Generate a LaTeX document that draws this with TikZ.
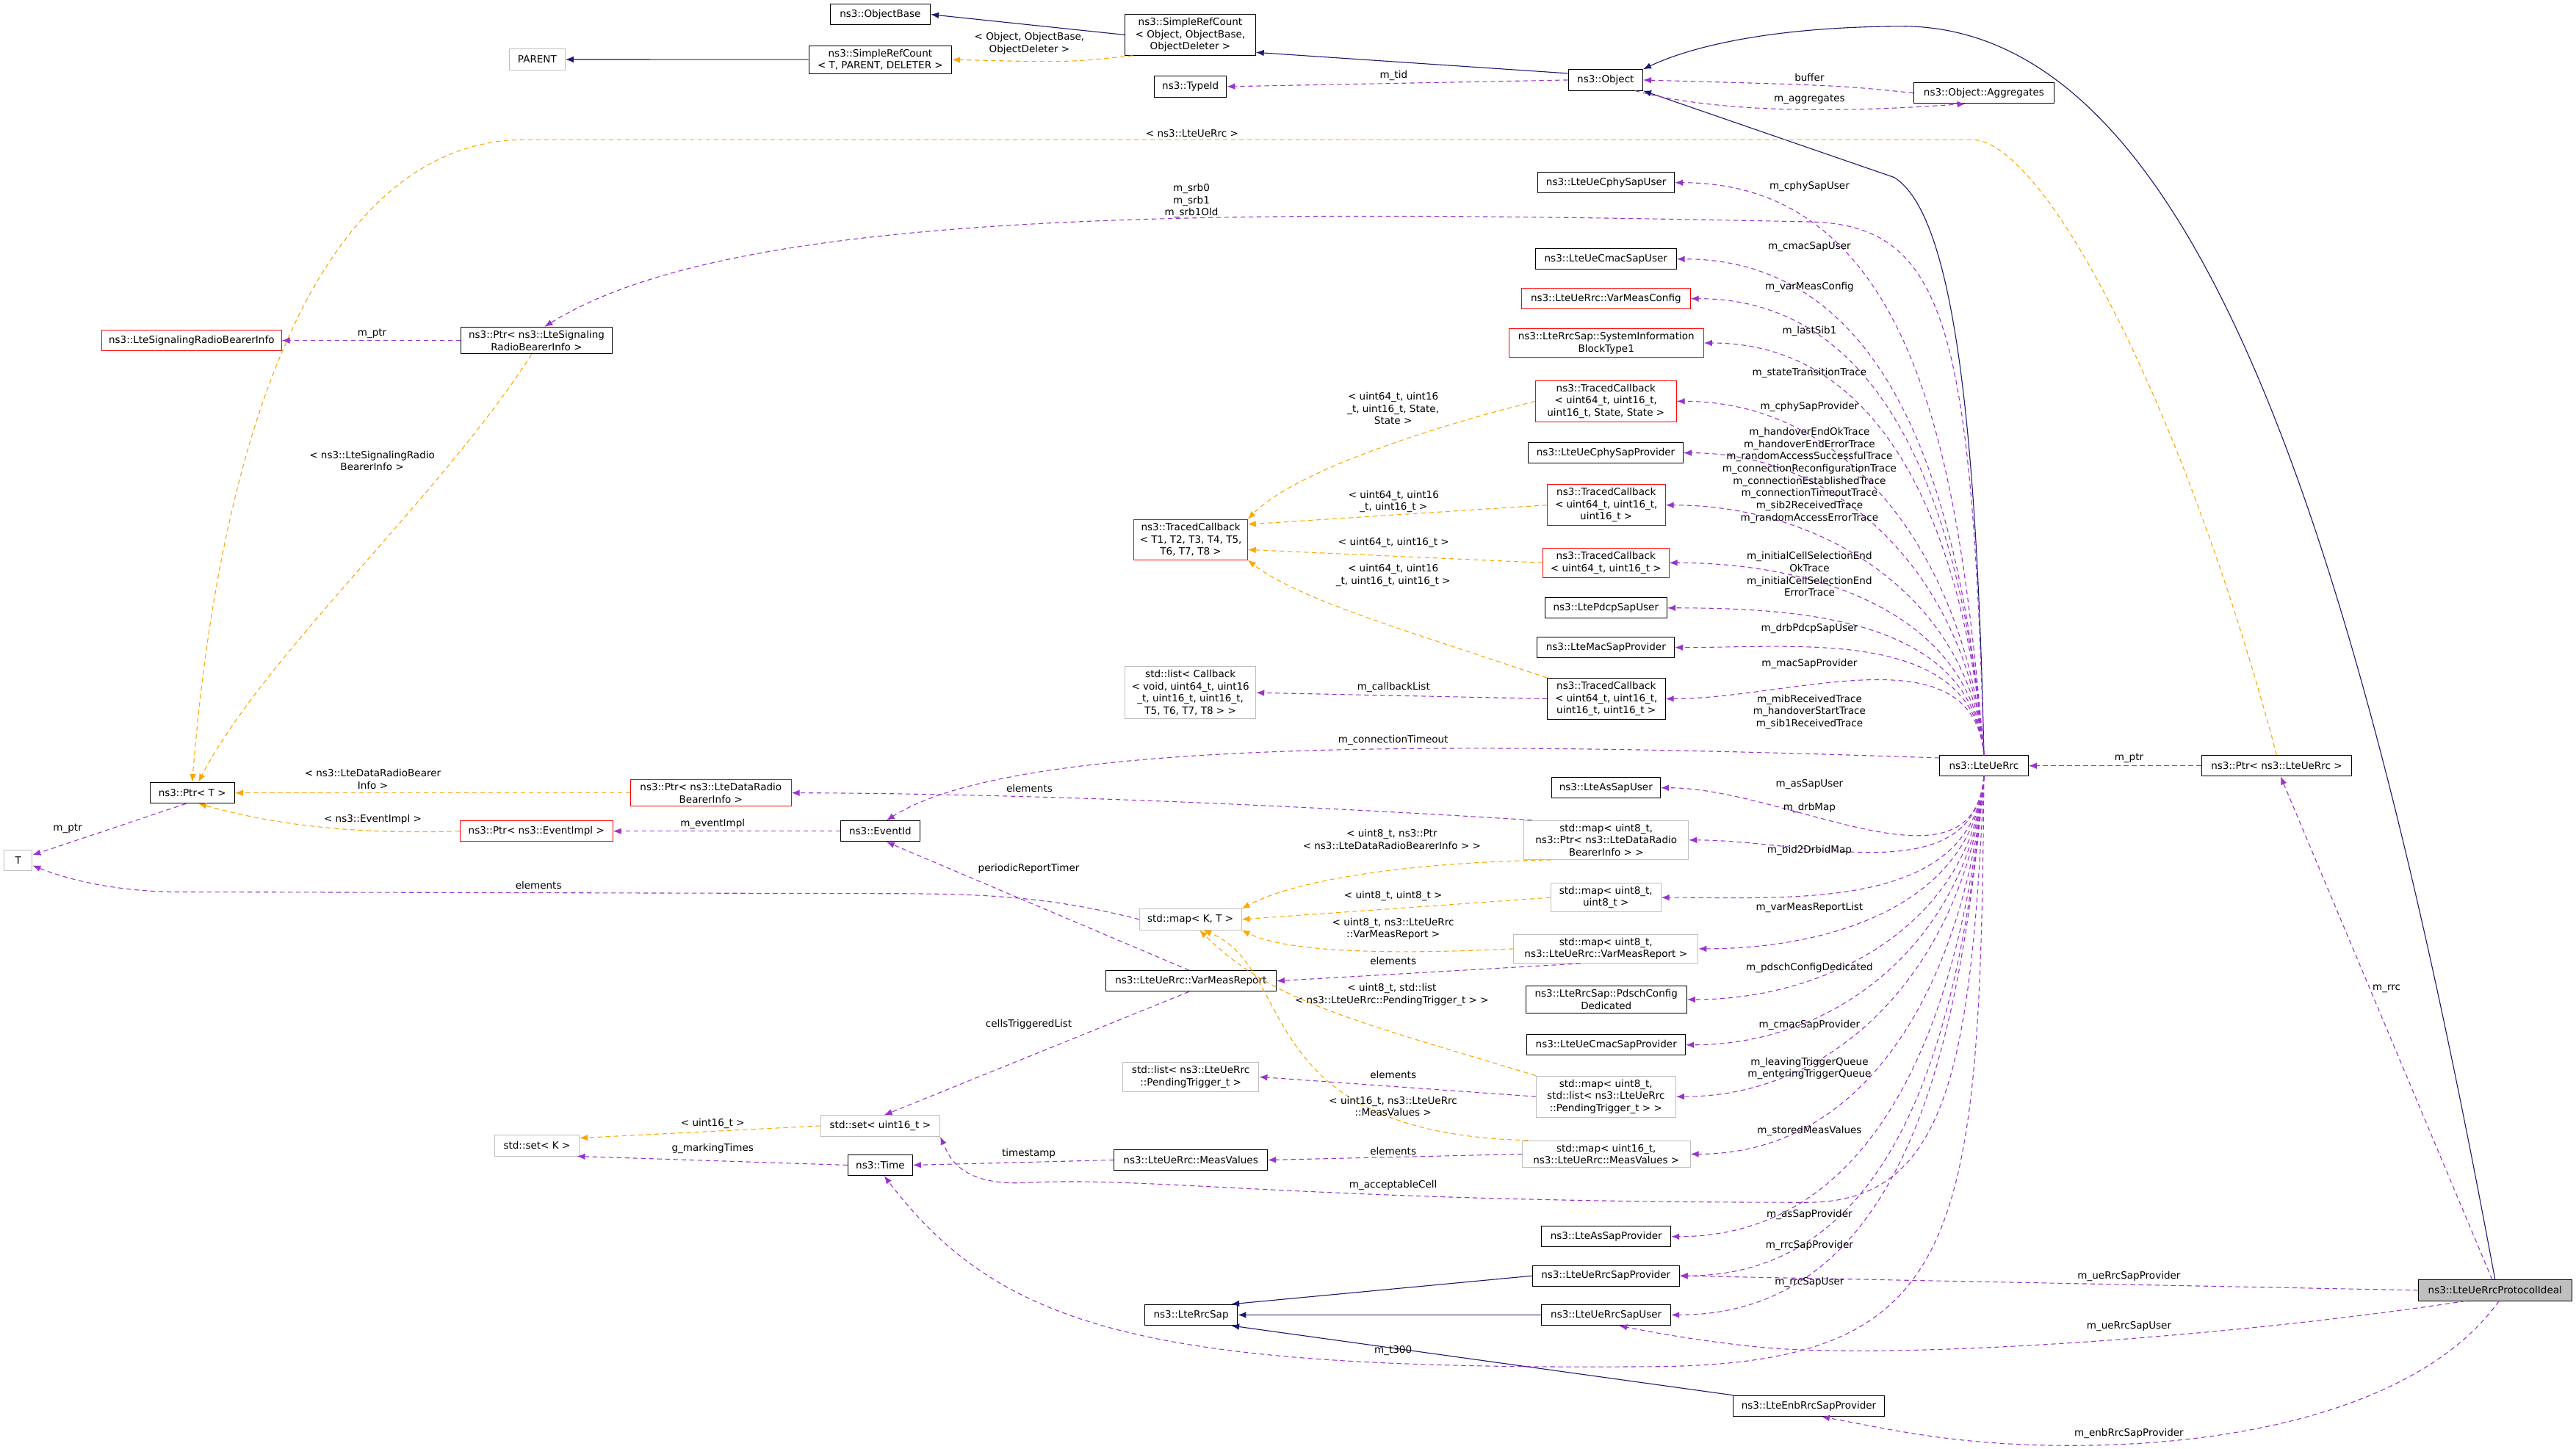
\documentclass[tikz,border=0pt]{standalone}
\usepackage{fontspec}
\setmainfont{DejaVu Sans}
\usetikzlibrary{arrows.meta}
\definecolor{navy}{RGB}{25,25,112}
\definecolor{purp}{RGB}{154,50,205}
\definecolor{orng}{RGB}{255,165,0}
\definecolor{grayb}{RGB}{191,191,191}
\tikzset{
 box/.style={draw=black,rectangle,align=center,inner xsep=2pt,inner ysep=3pt,minimum height=18pt,font=\fontsize{8.6}{10.6}\selectfont,line width=0.6pt},
 redbox/.style={box,draw=red},
 graybox/.style={box,draw=grayb},
 bw/.style={minimum width=#1*1.4226pt},
 lbl/.style={align=center,inner sep=0.5pt,font=\fontsize{8.6}{10.6}\selectfont},
 inh/.style={draw=navy,line width=0.7pt,-{Latex[length=7pt,width=5.5pt]}},
 use/.style={draw=purp,line width=0.7pt,dash pattern=on 4pt off 3pt,-{Latex[length=7pt,width=5.5pt]}},
 tpl/.style={draw=orng,line width=0.7pt,dash pattern=on 4pt off 3pt,-{Latex[length=7pt,width=5.5pt]}},
}
\begin{document}
\begin{tikzpicture}[x=0.05cm,y=-0.05cm]
\useasboundingbox (0,0) rectangle (1568,882);
% nodes
\node[box,bw=61] (objbase) at (535.8,8.8) {ns3::ObjectBase};
\node[graybox,bw=34] (parent) at (327,36.2) {PARENT};
\node[box,bw=87] (srcT) at (535.8,36.3) {ns3::SimpleRefCount\\< T, PARENT, DELETER >};
\node[box,bw=79.4] (srcO) at (724.5,21.2) {ns3::SimpleRefCount\\< Object, ObjectBase,\\ObjectDeleter >};
\node[box,bw=44] (typeid) at (724.6,52.7) {ns3::TypeId};
\node[box,bw=45.3] (obj) at (977.3,48.7) {ns3::Object};
\node[box,bw=85.5] (agg) at (1207.6,56.6) {ns3::Object::Aggregates};
\node[box,bw=83] (cphyU) at (977.7,111.2) {ns3::LteUeCphySapUser};
\node[box,bw=85.7] (cmacU) at (977.5,157.7) {ns3::LteUeCmacSapUser};
\node[redbox,bw=102.7] (vmc) at (977.5,181.8) {ns3::LteUeRrc::VarMeasConfig};
\node[redbox,bw=118.6] (sib1) at (977.7,208.8) {ns3::LteRrcSap::SystemInformation\\BlockType1};
\node[redbox,bw=85.7] (tc5) at (977.5,244.3) {ns3::TracedCallback\\< uint64\_t, uint16\_t,\\uint16\_t, State, State >};
\node[box,bw=94.2] (cphyP) at (977.4,275.7) {ns3::LteUeCphySapProvider};
\node[redbox,bw=72] (tc3) at (977.7,307.5) {ns3::TracedCallback\\< uint64\_t, uint16\_t,\\uint16\_t >};
\node[redbox,bw=76.7] (tc2) at (977.5,342.6) {ns3::TracedCallback\\< uint64\_t, uint16\_t >};
\node[box,bw=74.5] (pdcpU) at (977.5,370.1) {ns3::LtePdcpSapUser};
\node[box,bw=83.5] (macP) at (977.5,394.2) {ns3::LteMacSapProvider};
\node[box,bw=72] (tc4) at (977.7,425.4) {ns3::TracedCallback\\< uint64\_t, uint16\_t,\\uint16\_t, uint16\_t >};
\node[redbox,bw=69] (tc8) at (724.8,328.5) {ns3::TracedCallback\\< T1, T2, T3, T4, T5,\\T6, T7, T8 >};
\node[graybox,bw=79.7] (cblist) at (724.6,421.7) {std::list< Callback\\< void, uint64\_t, uint16\\\_t, uint16\_t, uint16\_t,\\T5, T6, T7, T8 > >};
\node[redbox,bw=109.4] (sigRBI) at (116.6,207.3) {ns3::LteSignalingRadioBearerInfo};
\node[box,bw=92] (ptrS) at (326.6,207.3) {ns3::Ptr< ns3::LteSignaling\\RadioBearerInfo >};
\node[box,bw=51.6] (ptrT) at (117,482.7) {ns3::Ptr< T >};
\node[graybox,bw=17] (T) at (11.1,523.7) {T};
\node[redbox,bw=97.8] (ptrD) at (432.7,482.7) {ns3::Ptr< ns3::LteDataRadio\\BearerInfo >};
\node[redbox,bw=93] (ptrE) at (326.5,506) {ns3::Ptr< ns3::EventImpl >};
\node[box,bw=48.2] (eid) at (535.8,506) {ns3::EventId};
\node[box,bw=54] (rrc) at (1207.6,466.2) {ns3::LteUeRrc};
\node[box,bw=91.6] (ptrR) at (1385.8,466.2) {ns3::Ptr< ns3::LteUeRrc >};
\node[box,bw=66.3] (asU) at (977.5,479.6) {ns3::LteAsSapUser};
\node[graybox,bw=100] (mapD) at (977.7,511.4) {std::map< uint8\_t,\\ns3::Ptr< ns3::LteDataRadio\\BearerInfo > >};
\node[graybox,bw=62] (mapKT) at (724.6,559.7) {std::map< K, T >};
\node[graybox,bw=67] (mapB) at (977.5,546.4) {std::map< uint8\_t,\\uint8\_t >};
\node[graybox,bw=112.3] (mapV) at (977.5,577.6) {std::map< uint8\_t,\\ns3::LteUeRrc::VarMeasReport >};
\node[box,bw=103.8] (vmr) at (724.9,597.2) {ns3::LteUeRrc::VarMeasReport};
\node[box,bw=98] (pdsch) at (977.7,608.5) {ns3::LteRrcSap::PdschConfig\\Dedicated};
\node[box,bw=96.5] (cmacP) at (977.7,636.1) {ns3::LteUeCmacSapProvider};
\node[graybox,bw=83] (listP) at (724.8,655.6) {std::list< ns3::LteUeRrc\\::PendingTrigger\_t >};
\node[graybox,bw=85] (mapL) at (977.5,667.6) {std::map< uint8\_t,\\std::list< ns3::LteUeRrc\\::PendingTrigger\_t > >};
\node[box,bw=93.5] (mv) at (724.8,706.2) {ns3::LteUeRrc::MeasValues};
\node[graybox,bw=102.3] (mapM) at (977.7,702.6) {std::map< uint16\_t,\\ns3::LteUeRrc::MeasValues >};
\node[graybox,bw=51.6] (setK) at (326.8,697.4) {std::set< K >};
\node[graybox,bw=72.7] (setU) at (535.8,685.4) {std::set< uint16\_t >};
\node[box,bw=39.3] (time) at (535.8,709.3) {ns3::Time};
\node[box,bw=78.6] (asP) at (977.7,752.8) {ns3::LteAsSapProvider};
\node[box,bw=89.3] (ursp) at (977.5,776.7) {ns3::LteUeRrcSapProvider};
\node[box,bw=56.7] (rrcsap) at (725,800.5) {ns3::LteRrcSap};
\node[box,bw=78.6] (ursu) at (977.7,800.5) {ns3::LteUeRrcSapUser};
\node[box,bw=92.3] (enb) at (1101,855.9) {ns3::LteEnbRrcSapProvider};
\node[box,bw=93.4,fill=grayb] (prot) at (1518.7,785.5) {ns3::LteUeRrcProtocolIdeal};
% inheritance
\draw[inh] (srcO.west) -- (objbase.east);
\draw[inh] (srcT.west) -- (parent.east);
\draw[inh] (obj.170) -- (srcO.-15);
\draw[inh] (rrc.north) .. controls (1203,250) and (1188,130) .. (1153,108) -- (obj.south east);
\draw[inh] (prot.north) .. controls (1430,300) and (1330,20) .. (1161,16) .. controls (1080,16) and (1030,28) .. (obj.north east);
\draw[inh] (ursp.west) -- (rrcsap.15);
\draw[inh] (ursu.west) -- (rrcsap.east);
\draw[inh] (enb.north west) -- (rrcsap.-15);
% templates
\draw[tpl] (srcO.200) .. controls (650,38) .. (srcT.east);
\node[lbl] at (626.6,26.5) {< Object, ObjectBase,\\ObjectDeleter >};
\draw[tpl] (ptrR.north) .. controls (1330,250) and (1245,85) .. (1200,85) -- (320,85) .. controls (200,85) and (135,250) .. (ptrT.north);
\node[lbl] at (725.6,81.3) {< ns3::LteUeRrc >};
\draw[tpl] (ptrS.250) .. controls (270,300) and (160,400) .. (ptrT.60);
\node[lbl] at (226.5,280.6) {< ns3::LteSignalingRadio\\BearerInfo >};
\draw[tpl] (ptrD.west) -- (ptrT.east);
\node[lbl] at (226.9,474.3) {< ns3::LteDataRadioBearer\\Info >};
\draw[tpl] (ptrE.west) .. controls (220,508) and (170,503) .. (ptrT.-60);
\node[lbl] at (226.9,499) {< ns3::EventImpl >};
\draw[tpl] (tc5.west) .. controls (880,258) and (790,285) .. (tc8.north east);
\node[lbl] at (848,248.6) {< uint64\_t, uint16\\\_t, uint16\_t, State,\\State >};
\draw[tpl] (tc3.west) -- (tc8.15);
\node[lbl] at (848.3,305.4) {< uint64\_t, uint16\\\_t, uint16\_t >};
\draw[tpl] (tc2.west) -- (tc8.-10);
\node[lbl] at (848.3,330.2) {< uint64\_t, uint16\_t >};
\draw[tpl] (tc4.north west) .. controls (860,385) and (790,365) .. (tc8.south east);
\node[lbl] at (848,350.2) {< uint64\_t, uint16\\\_t, uint16\_t, uint16\_t >};
\draw[tpl] (mapD.200) .. controls (860,525) and (790,535) .. (mapKT.north east);
\node[lbl] at (847.2,510.9) {< uint8\_t, ns3::Ptr\\< ns3::LteDataRadioBearerInfo > >};
\draw[tpl] (mapB.west) -- (mapKT.east);
\node[lbl] at (848,545.5) {< uint8\_t, uint8\_t >};
\draw[tpl] (mapV.west) .. controls (830,582) and (780,578) .. (mapKT.south east);
\node[lbl] at (848,565.4) {< uint8\_t, ns3::LteUeRrc\\::VarMeasReport >};
\draw[tpl] (mapL.north west) .. controls (820,620) and (775,610) .. (mapKT.-50);
\node[lbl] at (847.2,605.6) {< uint8\_t, std::list\\< ns3::LteUeRrc::PendingTrigger\_t > >};
\draw[tpl] (mapM.170) .. controls (760,690) and (790,590) .. (mapKT.-40);
\node[lbl] at (848,673.5) {< uint16\_t, ns3::LteUeRrc\\::MeasValues >};
\draw[tpl] (setU.west) -- (setK.10);
\node[lbl] at (433.8,684) {< uint16\_t >};
% usage edges (misc)
\draw[use] (agg.west) .. controls (1120,52) .. (obj.east);
\node[lbl] at (1101.4,47.3) {buffer};
\draw[use] (obj.-20) .. controls (1050,70) and (1130,68) .. (agg.-150);
\node[lbl] at (1101.4,60.7) {m\_aggregates};
\draw[use] (obj.west) -- (typeid.east);
\node[lbl] at (848.3,45.9) {m\_tid};
\draw[use] (ptrS.west) -- (sigRBI.east);
\node[lbl] at (226.5,203) {m\_ptr};
\draw[use] (ptrT.-120) -- (T.20);
\node[lbl] at (41.2,504.5) {m\_ptr};
\draw[use] (eid.west) -- (ptrE.east);
\node[lbl] at (433.8,501.7) {m\_eventImpl};
\draw[use] (mapKT.west) .. controls (640,546) and (600,544) .. (540,544) -- (110,543) .. controls (70,543) and (40,535) .. (T.-20);
\node[lbl] at (327.8,539.1) {elements};
\draw[use] (mapD.165) .. controls (750,488) and (600,483) .. (ptrD.east);
\node[lbl] at (626.6,480.1) {elements};
\draw[use] (vmr.100) -- (eid.-60);
\node[lbl] at (626.2,528.6) {periodicReportTimer};
\draw[use] (vmr.-100) -- (setU.70);
\node[lbl] at (626.2,623.7) {cellsTriggeredList};
\draw[use] (mapV.-150) .. controls (850,593) .. (vmr.east);
\node[lbl] at (848,584.9) {elements};
\draw[use] (mapL.west) -- (listP.east);
\node[lbl] at (848,654.1) {elements};
\draw[use] (mapM.west) -- (mv.east);
\node[lbl] at (848,701) {elements};
\draw[use] (mv.west) -- (time.east);
\node[lbl] at (626.2,702.4) {timestamp};
\draw[use] (time.west) -- (setK.-15);
\node[lbl] at (433.8,699.3) {g\_markingTimes};
\draw[use] (tc4.west) -- (cblist.east);
\node[lbl] at (848.3,418.3) {m\_callbackList};
\draw[use] (ptrR.west) -- (rrc.east);
\node[lbl] at (1295.9,461.5) {m\_ptr};
\draw[use] (prot.105) -- (ptrR.-70);
\node[lbl] at (1452.7,601.8) {m\_rrc};
\draw[use] (prot.west) -- (ursp.east);
\node[lbl] at (1295.9,776.9) {m\_ueRrcSapProvider};
\draw[use] (prot.-160) .. controls (1350,815) and (1150,828) .. (1070,820) .. controls (1040,817) and (1010,812) .. (ursu.-40);
\node[lbl] at (1295.9,807.4) {m\_ueRrcSapUser};
\draw[use] (prot.-70) .. controls (1480,850) and (1380,880) .. (1260,880) .. controls (1190,880) and (1150,870) .. (enb.-40);
\node[lbl] at (1295.9,872.5) {m\_enbRrcSapProvider};
% LteUeRrc fan (upward)
\draw[use] (rrc.north) .. controls (1200,200) and (1185,136) .. (1100,135) .. controls (750,128) and (450,125) .. (ptrS.60);
\node[lbl] at (725.2,122.3) {m\_srb0\\m\_srb1\\m\_srb1Old};
\draw[use] (rrc.170) .. controls (900,452) and (620,448) .. (eid.60);
\node[lbl] at (848,450.7) {m\_connectionTimeout};
\foreach \t in {cphyU,cmacU,vmc,sib1,tc5,cphyP,tc3,tc2,pdcpU,macP,tc4}
  \draw[use] (rrc.north) to[out=95,in=0] (\t.east);
\node[lbl] at (1101.4,113.5) {m\_cphySapUser};
\node[lbl] at (1101.4,150.3) {m\_cmacSapUser};
\node[lbl] at (1101.4,174.8) {m\_varMeasConfig};
\node[lbl] at (1101.4,201.6) {m\_lastSib1};
\node[lbl] at (1101.4,227) {m\_stateTransitionTrace};
\node[lbl] at (1101.4,247.8) {m\_cphySapProvider};
\node[lbl] at (1101.4,289.4) {m\_handoverEndOkTrace\\m\_handoverEndErrorTrace\\m\_randomAccessSuccessfulTrace\\m\_connectionReconfigurationTrace\\m\_connectionEstablishedTrace\\m\_connectionTimeoutTrace\\m\_sib2ReceivedTrace\\m\_randomAccessErrorTrace};
\node[lbl] at (1101.4,349.6) {m\_initialCellSelectionEnd\\OkTrace\\m\_initialCellSelectionEnd\\ErrorTrace};
\node[lbl] at (1101.4,382.7) {m\_drbPdcpSapUser};
\node[lbl] at (1101.4,404) {m\_macSapProvider};
\node[lbl] at (1101.4,433.4) {m\_mibReceivedTrace\\m\_handoverStartTrace\\m\_sib1ReceivedTrace};
% LteUeRrc fan (downward)
\foreach \t in {asU,mapD,mapB,mapV,pdsch,cmacP,mapL,mapM,asP,ursp,ursu}
  \draw[use] (rrc.south) to[out=-95,in=0] (\t.east);
\draw[use] (rrc.south) .. controls (1200,650) and (1185,732) .. (1100,732) .. controls (800,732) and (700,716) .. (625,720) .. controls (585,722) and (578,705) .. (setU.south east);
\node[lbl] at (848,721.5) {m\_acceptableCell};
\draw[use] (rrc.south) .. controls (1205,760) and (1195,832) .. (1000,832) .. controls (700,834) and (610,810) .. (time.-70);
\node[lbl] at (848,822.1) {m\_t300};
\node[lbl] at (1101.4,477.6) {m\_asSapUser};
\node[lbl] at (1101.4,491.7) {m\_drbMap};
\node[lbl] at (1101.4,517.8) {m\_bid2DrbidMap};
\node[lbl] at (1101.4,552.7) {m\_varMeasReportList};
\node[lbl] at (1101.4,589.2) {m\_pdschConfigDedicated};
\node[lbl] at (1101.4,624.2) {m\_cmacSapProvider};
\node[lbl] at (1101.4,650.5) {m\_leavingTriggerQueue\\m\_enteringTriggerQueue};
\node[lbl] at (1101.4,688.5) {m\_storedMeasValues};
\node[lbl] at (1101.4,739.5) {m\_asSapProvider};
\node[lbl] at (1101.4,758.3) {m\_rrcSapProvider};
\node[lbl] at (1101.4,780.5) {m\_rrcSapUser};
\end{tikzpicture}
\end{document}
